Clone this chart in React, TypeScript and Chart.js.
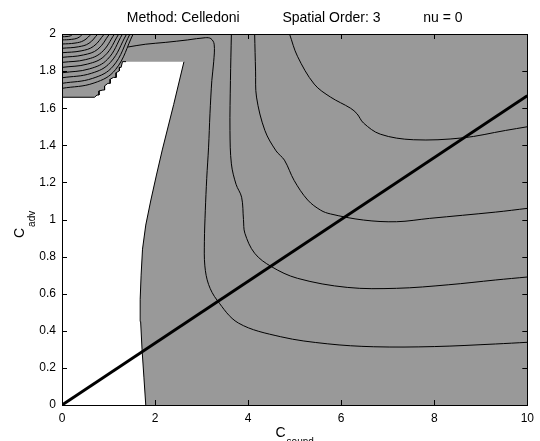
import React, { useEffect, useRef } from 'react';
import { Chart, registerables } from 'chart.js';

Chart.register(...registerables);

// ---------- text ----------
const titleText = 'Method: Celledoni           Spatial Order: 3           nu = 0';
const xLabelMain = 'C';
const xLabelSub = 'sound';
const yLabelMain = 'C';
const yLabelSub = 'adv';

// ---------- ticks ----------
const xTickValues = [0, 2, 4, 6, 8, 10];
const xTickLabels = ['0', '2', '4', '6', '8', '10'];
const yTickValues = [0, 0.2, 0.4, 0.6, 0.8, 1, 1.2, 1.4, 1.6, 1.8, 2];
const yTickLabels = ['0', '0.2', '0.4', '0.6', '0.8', '1', '1.2', '1.4', '1.6', '1.8', '2'];

// ---------- filled regions (data coords) ----------
const shadedRegion: number[][] = [[0, 0], [10, 0], [10, 2], [0, 2]];
const blankRightEdge: number[][] = [
  [1.8, 0], [1.76, 0.15], [1.72, 0.3], [1.69, 0.45], [1.68, 0.57], [1.7, 0.7],
  [1.73, 0.84], [1.8, 0.97], [1.91, 1.105], [2.03, 1.24], [2.155, 1.375],
  [2.4, 1.62], [2.62, 1.85],
];
const blankTopEdge: number[][] = [[2.62, 1.85], [1.376, 1.851]];
const blankStairEdge: number[][] = [
  [1.376, 1.851], [1.3, 1.851], [1.27, 1.82], [1.234, 1.82], [1.234, 1.802],
  [1.163, 1.791], [1.163, 1.766], [1.106, 1.766], [1.035, 1.756], [1.035, 1.734],
  [0.986, 1.734], [0.915, 1.72], [0.915, 1.698], [0.88, 1.698], [0.795, 1.693],
  [0.795, 1.671], [0.752, 1.671], [0.7, 1.659], [0, 1.659],
];

// ---------- contour lines (data coords) ----------
const contour1: number[][] = [
  [1.42, 1.93], [1.8, 1.945], [2.23, 1.955], [2.7, 1.968], [3.08, 1.98], [3.2, 1.975],
  [3.27, 1.945], [3.26, 1.85], [3.22, 1.75], [3.18, 1.57], [3.15, 1.39], [3.11, 1.22],
  [3.08, 1.05], [3.06, 0.88], [3.07, 0.75], [3.15, 0.65], [3.33, 0.566], [3.79, 0.442],
  [4.7, 0.368], [5.7, 0.33], [6.7, 0.314], [8.0, 0.315], [9.32, 0.329], [10, 0.338],
];
const contour2: number[][] = [
  [3.64, 2.0], [3.62, 1.75], [3.61, 1.48], [3.64, 1.3], [3.74, 1.19], [3.86, 1.12],
  [3.9, 1.0], [3.93, 0.926], [4.14, 0.818], [4.5, 0.746], [5.06, 0.683], [6.13, 0.634],
  [7.19, 0.629], [8.3, 0.648], [9.32, 0.674], [10, 0.69],
];
const contour3: number[][] = [
  [4.14, 2.0], [4.16, 1.8], [4.18, 1.66], [4.36, 1.48], [4.6, 1.37], [4.78, 1.32],
  [4.99, 1.21], [5.28, 1.105], [5.56, 1.05], [5.77, 1.03], [6.48, 0.997], [7.19, 0.988],
  [7.9, 1.006], [9.32, 1.04], [10, 1.06],
];
const contour4: number[][] = [
  [4.89, 2.0], [5.06, 1.88], [5.42, 1.73], [5.77, 1.66], [6.2, 1.6], [6.34, 1.57],
  [6.48, 1.52], [6.84, 1.46], [7.55, 1.43], [8.61, 1.44], [9.53, 1.48], [10, 1.5],
];
const cornerArcs: number[][][] = [
  [[0, 1.985], [0.108, 1.9865], [0.18, 1.99], [0.24, 2.0]],
  [[0, 1.968], [0.2, 1.971], [0.34, 1.979], [0.45, 2.0]],
  [[0, 1.946], [0.28, 1.951], [0.47, 1.965], [0.63, 2.0]],
  [[0, 1.923], [0.35, 1.931], [0.58, 1.95], [0.77, 2.0]],
  [[0, 1.899], [0.41, 1.909], [0.68, 1.934], [0.91, 2.0]],
  [[0, 1.874], [0.46, 1.887], [0.77, 1.918], [1.02, 2.0]],
  [[0, 1.847], [0.51, 1.862], [0.85, 1.901], [1.13, 2.0]],
  [[0, 1.82], [0.55, 1.838], [0.92, 1.883], [1.22, 2.0]],
  [[0, 1.791], [0.59, 1.812], [0.98, 1.864], [1.3, 2.0]],
  [[0, 1.764], [0.63, 1.788], [1.04, 1.847], [1.39, 2.0]],
  [[0, 1.734], [0.66, 1.761], [1.1, 1.827], [1.46, 2.0]],
  [[0, 1.707], [0.69, 1.736], [1.15, 1.808], [1.53, 2.0]],
];
const diagonalLine: number[][] = [[0, 0], [10, 1.667]];

// ---------- style ----------
const shadeColor = '#999999';
const FONT = 'Liberation Sans, Arial, Helvetica, sans-serif';

const toPts = (arr: number[][]) => arr.map(([x, y]) => ({ x, y }));

const regionPlugin = {
  id: 'regions',
  beforeDatasetsDraw(chart: any) {
    const { ctx, chartArea, scales } = chart;
    const xs = scales.x;
    const ys = scales.y;
    const poly = (pts: number[][], color: string) => {
      ctx.beginPath();
      pts.forEach(([x, y], i) => {
        const px = xs.getPixelForValue(x);
        const py = ys.getPixelForValue(y);
        if (i === 0) ctx.moveTo(px, py);
        else ctx.lineTo(px, py);
      });
      ctx.closePath();
      ctx.fillStyle = color;
      ctx.fill();
    };
    ctx.save();
    ctx.beginPath();
    ctx.rect(chartArea.left, chartArea.top, chartArea.width, chartArea.height);
    ctx.clip();
    poly(shadedRegion, shadeColor);
    poly([[0, 0], ...blankRightEdge, ...blankTopEdge, ...blankStairEdge], '#ffffff');
    ctx.restore();
  },
};

const framePlugin = {
  id: 'frame',
  afterDatasetsDraw(chart: any) {
    const { ctx, chartArea, scales } = chart;
    const { left, right, top, bottom } = chartArea;
    const L = 5;
    ctx.save();
    ctx.strokeStyle = '#000';
    ctx.lineWidth = 1;
    ctx.beginPath();
    xTickValues.forEach((v) => {
      const px = Math.round(scales.x.getPixelForValue(v)) + 0.5;
      ctx.moveTo(px, bottom);
      ctx.lineTo(px, bottom - L);
      ctx.moveTo(px, top);
      ctx.lineTo(px, top + L);
    });
    yTickValues.forEach((v) => {
      const py = Math.round(scales.y.getPixelForValue(v)) + 0.5;
      ctx.moveTo(left, py);
      ctx.lineTo(left + L, py);
      ctx.moveTo(right, py);
      ctx.lineTo(right - L, py);
    });
    ctx.stroke();
    ctx.strokeRect(Math.round(left) + 0.5, Math.round(top) + 0.5, Math.round(right - left), Math.round(bottom - top));
    ctx.restore();
  },
};

const axisLabelPlugin = {
  id: 'axisLabels',
  afterDraw(chart: any) {
    const { ctx, chartArea } = chart;
    ctx.save();
    ctx.fillStyle = '#000';
    ctx.textBaseline = 'alphabetic';
    ctx.textAlign = 'left';
    // x label
    ctx.font = `14px ${FONT}`;
    const wMain = ctx.measureText(xLabelMain).width;
    ctx.font = `10px ${FONT}`;
    const wSub = ctx.measureText(xLabelSub).width;
    const cx = (chartArea.left + chartArea.right) / 2;
    const startX = cx - (wMain + 1 + wSub) / 2;
    ctx.font = `14px ${FONT}`;
    ctx.fillText(xLabelMain, startX, 437);
    ctx.font = `10px ${FONT}`;
    ctx.fillText(xLabelSub, startX + wMain + 1, 444.5);
    // y label
    ctx.translate(24, 238);
    ctx.rotate(-Math.PI / 2);
    ctx.font = `14px ${FONT}`;
    const yMain = ctx.measureText(yLabelMain).width;
    ctx.fillText(yLabelMain, 0, 0);
    ctx.font = `10px ${FONT}`;
    ctx.fillText(yLabelSub, yMain + 1, 11);
    ctx.restore();
  },
};

const lineDs = (arr: number[][], width = 1, tension = 0.35) => ({
  data: toPts(arr),
  showLine: true,
  borderColor: '#000',
  borderWidth: width,
  pointRadius: 0,
  tension,
  fill: false,
});

export default function App() {
  const canvasRef = useRef<HTMLCanvasElement | null>(null);

  useEffect(() => {
    if (!canvasRef.current) return;
    const datasets: any[] = [
      lineDs(blankRightEdge, 1, 0),
      lineDs(blankStairEdge, 1, 0),
      ...cornerArcs.map((a) => lineDs(a, 1, 0.4)),
      lineDs(contour1),
      lineDs(contour2),
      lineDs(contour3),
      lineDs(contour4),
      lineDs(diagonalLine, 3, 0),
    ];
    const chart = new Chart(canvasRef.current, {
      type: 'scatter',
      data: { datasets },
      options: {
        animation: false,
        responsive: false,
        devicePixelRatio: 1,
        layout: { padding: { left: 0, right: 8, top: 0, bottom: 0 } },
        plugins: {
          legend: { display: false },
          tooltip: { enabled: false },
          title: {
            display: true,
            text: titleText,
            fullSize: false,
            color: '#000',
            font: { family: FONT, size: 14, weight: 'normal', lineHeight: 1.2 },
            padding: { top: 10, bottom: 7.2 },
          },
        },
        scales: {
          x: {
            type: 'linear',
            min: 0,
            max: 10,
            afterBuildTicks: (s: any) => { s.ticks = xTickValues.map((v) => ({ value: v })); },
            afterFit: (s: any) => { s.height = 36; },
            ticks: {
              callback: (_v: any, i: number) => xTickLabels[i],
              color: '#000',
              font: { family: FONT, size: 12 },
              padding: 6,
              maxRotation: 0,
              autoSkip: false,
            },
            grid: { display: false, drawTicks: false },
            border: { display: false },
          },
          y: {
            type: 'linear',
            min: 0,
            max: 2,
            afterBuildTicks: (s: any) => { s.ticks = yTickValues.map((v) => ({ value: v })); },
            afterFit: (s: any) => { s.width = 62; },
            ticks: {
              callback: (_v: any, i: number) => yTickLabels[i],
              color: '#000',
              font: { family: FONT, size: 12 },
              padding: 6,
              autoSkip: false,
            },
            grid: { display: false, drawTicks: false },
            border: { display: false },
          },
        },
      },
      plugins: [regionPlugin, framePlugin, axisLabelPlugin],
    });
    return () => chart.destroy();
  }, []);

  return (
    <div style={{ position: 'absolute', left: 0, top: 0, width: 540, height: 441, background: '#fff' }}>
      <canvas ref={canvasRef} width={540} height={441} />
    </div>
  );
}
